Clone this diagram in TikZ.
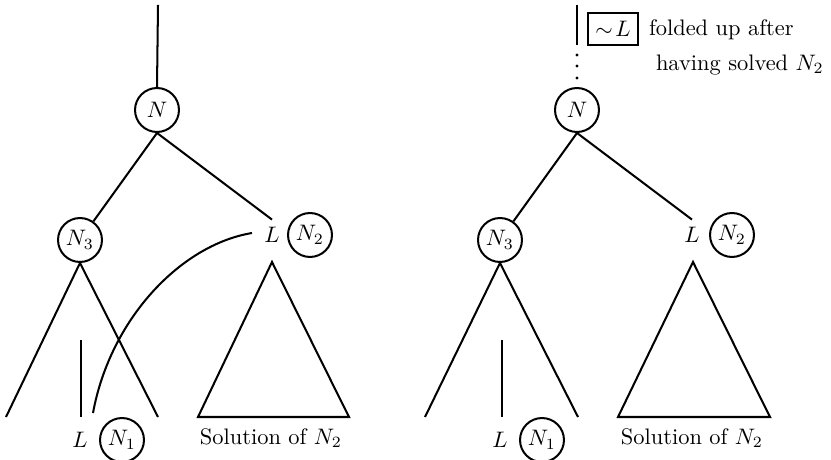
\documentclass[tikz,border=0pt]{standalone}
\begin{document}
\begin{tikzpicture}[x=0.446pt,y=-0.446pt,line width=0.9pt,
  circ/.style={draw,circle,inner sep=0pt,minimum size=19.6pt},
  lab/.style={inner sep=3pt},
  txt/.style={inner sep=0pt}]
\useasboundingbox (0,0) rectangle (831,460);
% ---------- left tree ----------
\coordinate (topA) at (158,5);
\node[circ] (nA) at (157,110) {$N$};
\node[circ] (n3A) at (80,240) {$N_3$};
\node[lab] (lA) at (272,235) {$L$};
\node[circ] (n2A) at (310,235) {$N_2$};
\node[lab] (l1A) at (80,440) {$L$};
\node[circ] (n1A) at (122,440) {$N_1$};
\node[txt] (solA) at (271,438) {Solution of $N_2$};
\coordinate (blA) at (6,417);
\coordinate (brA) at (158,417);
\coordinate (vtA) at (81,340);
\coordinate (vbA) at (81,417);
\coordinate (apA) at (272,262);
\coordinate (tlA) at (198,417);
\coordinate (trA) at (349,417);
\coordinate (cA) at (252,233);
\coordinate (ceA) at (93,413);
\draw (topA) -- (nA.north);
\draw (nA.south) -- (n3A);
\draw (nA.south) -- (lA.north);
\draw (blA) -- (n3A.south) -- (brA);
\draw (vtA) -- (vbA);
\draw (apA) -- (tlA) -- (trA) -- cycle;
\draw (cA) .. controls (180,245) and (110,320) .. (ceA);
% ---------- right tree ----------
\coordinate (topB) at (577,5);
\coordinate (midB) at (577,45);
\node[circ] (nB) at (577,110) {$N$};
\fill (577,55) circle (1.6);
\fill (577,66) circle (1.6);
\fill (577,78) circle (1.6);
\node[draw,inner sep=0pt,minimum width=22.3pt,minimum height=14.3pt] (boxB) at (613,29) {$\sim\! L$};
\node[txt,anchor=west] (t1B) at (648,30) {folded up after};
\node[txt,anchor=west] (t2B) at (655,65) {having solved $N_2$};
\node[circ] (n3B) at (500,240) {$N_3$};
\node[lab] (lB) at (692,235) {$L$};
\node[circ] (n2B) at (732,235) {$N_2$};
\node[lab] (l1B) at (500,440) {$L$};
\node[circ] (n1B) at (542,440) {$N_1$};
\node[txt] (solB) at (692,438) {Solution of $N_2$};
\coordinate (blB) at (425,417);
\coordinate (brB) at (578,417);
\coordinate (vtB) at (502,340);
\coordinate (vbB) at (502,417);
\coordinate (apB) at (693,262);
\coordinate (tlB) at (618,417);
\coordinate (trB) at (770,417);
\draw (topB) -- (midB);
\draw (nB.south) -- (n3B);
\draw (nB.south) -- (lB.north);
\draw (blB) -- (n3B.south) -- (brB);
\draw (vtB) -- (vbB);
\draw (apB) -- (tlB) -- (trB) -- cycle;
\end{tikzpicture}
\end{document}
